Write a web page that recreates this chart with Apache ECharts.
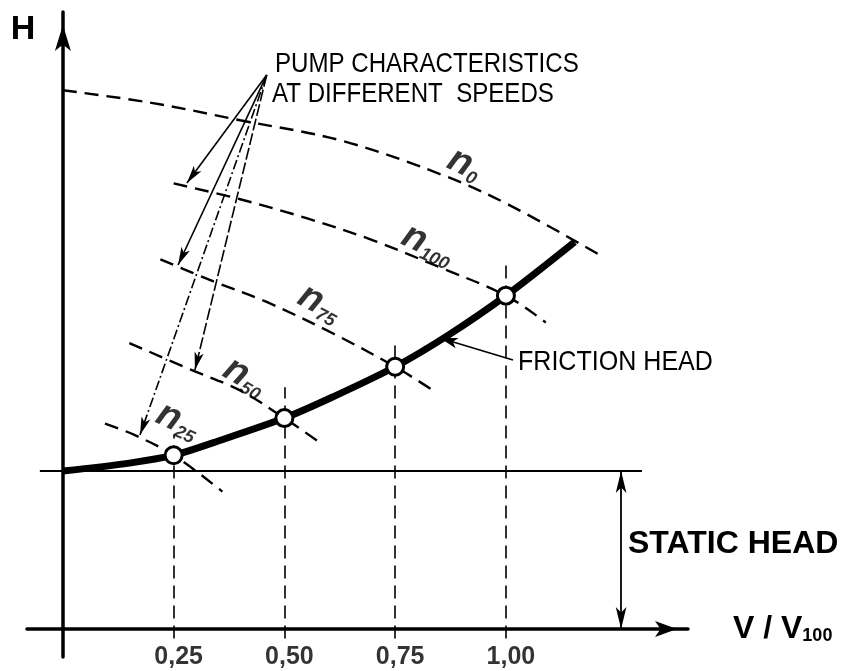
<!DOCTYPE html>
<html>
<head>
<meta charset="utf-8">
<script src="https://cdn.jsdelivr.net/npm/echarts@6/dist/echarts.min.js"></script>
<style>
html, body { margin: 0; padding: 0; background: #fff; }
#chart { width: 842px; height: 671px; }
</style>
</head>
<body>
<div id="chart"></div>
<script>
// operating points (V/V100, H) where the pump curves meet the system curve
var flowRatio = [0.25, 0.5, 0.75, 1.0];
var operatingHead = [1.10, 1.335, 1.66, 2.11];
var guideTop = [1.23, 1.53, 1.83, 2.30];
var staticHead = 1.0;

// system curve = static head + friction head
var frictionV = [0, 0.15, 0.25, 0.34, 0.5, 0.61, 0.75, 0.87, 1.0, 1.155];
var frictionH = [1.0, 1.05, 1.10, 1.18, 1.335, 1.47, 1.66, 1.86, 2.11, 2.45];

// pump characteristics
var n0V = [0, 0.2, 0.4, 0.63, 0.86, 1.01, 1.21];
var n0H = [3.41, 3.33, 3.22, 3.09, 2.87, 2.68, 2.37];
var n100V = [0.25, 0.4, 0.55, 0.7, 0.85, 1.0, 1.09];
var n100H = [2.82, 2.72, 2.6, 2.46, 2.29, 2.11, 1.94];
var n75V = [0.22, 0.34, 0.46, 0.61, 0.75, 0.83];
var n75H = [2.34, 2.2, 2.07, 1.87, 1.66, 1.52];
var n50V = [0.15, 0.29, 0.4, 0.5, 0.58];
var n50H = [1.81, 1.64, 1.51, 1.335, 1.18];
var n25V = [0.095, 0.16, 0.25, 0.36];
var n25H = [1.30, 1.23, 1.10, 0.87];

var speedNames = ['0', '100', '75', '50', '25'];
var speedLabelAt = [[0.907, 2.94], [0.824, 2.43], [0.58, 2.06], [0.411, 1.595], [0.26, 1.316]];
var speedLabelTilt = [-25, -25, -28, -30, -25];

// leader lines for the annotations
var leaderApex = [0.46, 3.506];
var leaderEnds = [[0.28, 2.823], [0.26, 2.304], [0.298, 1.639], [0.174, 1.228]];
var frictionLeader = [[1.016, 1.703], [0.851, 1.842]];
var staticArrowV = 1.26;

function pts(xs, ys) {
  return xs.map(function (x, i) { return [x, ys[i]]; });
}

var chart = echarts.init(document.getElementById('chart'));

var pumpStyle = { color: '#000', width: 2.4, type: [14, 8] };
function pumpSeries(xs, ys) {
  return {
    type: 'line', data: pts(xs, ys), smooth: 0.35, symbol: 'none',
    lineStyle: pumpStyle, z: 2, silent: true
  };
}

var leaderStyles = [
  { color: '#000', width: 1.6, type: 'solid' },
  { color: '#000', width: 1.6, type: 'solid' },
  { color: '#000', width: 1.6, type: [12, 3] },
  { color: '#000', width: 1.6, type: [10, 3, 2, 3] }
];

var marks = [];
flowRatio.forEach(function (v, i) {
  marks.push([
    { coord: [v, -0.06], lineStyle: { color: '#000', width: 1.6, type: [13, 7] } },
    { coord: [v, guideTop[i]] }
  ]);
});
marks.push([
  { coord: [-0.052, staticHead], lineStyle: { color: '#000', width: 1.8, type: 'solid' } },
  { coord: [1.307, staticHead] }
]);
marks.push([
  { coord: [staticArrowV, staticHead], symbol: 'arrow', symbolSize: [8, 22], lineStyle: { color: '#000', width: 1.8, type: 'solid' } },
  { coord: [staticArrowV, 0], symbol: 'arrow', symbolSize: [8, 22] }
]);
leaderEnds.forEach(function (p, i) {
  marks.push([
    { coord: leaderApex, lineStyle: leaderStyles[i] },
    { coord: p, symbol: 'arrow', symbolSize: [7, 18] }
  ]);
});
marks.push([
  { coord: frictionLeader[0], lineStyle: { color: '#000', width: 1.6, type: 'solid' } },
  { coord: frictionLeader[1], symbol: 'arrow', symbolSize: [8, 18] }
]);

var textBase = { fill: '#000', align: 'left', verticalAlign: 'middle', fontFamily: 'Liberation Sans' };
function note(x, y, text, size, sx, weight) {
  return {
    type: 'text', x: x, y: y, scaleX: sx,
    style: Object.assign({ text: text, fontSize: size, fontWeight: weight || 'normal' }, textBase)
  };
}

var option = {
  animation: false,
  backgroundColor: '#fff',
  grid: { left: 27, right: 154, top: 12, bottom: 14, outerBoundsMode: 'none' },
  xAxis: {
    type: 'value', min: -0.081, max: 1.411,
    splitLine: { show: false },
    axisTick: { show: false },
    axisLabel: { show: false },
    axisLine: {
      onZero: true,
      lineStyle: { color: '#000', width: 3.5 },
      symbol: ['none', 'arrow'], symbolSize: [12, 22], symbolOffset: [0, -11]
    },
    name: '{a|V / V}{b|100}',
    nameLocation: 'end',
    nameGap: 45,
    nameTextStyle: {
      rich: {
        a: { fontSize: 32, fontWeight: 'bold', fontFamily: 'Liberation Sans', color: '#000' },
        b: { fontSize: 18, fontWeight: 'bold', fontFamily: 'Liberation Sans', color: '#000', verticalAlign: 'bottom' }
      }
    }
  },
  yAxis: {
    type: 'value', min: -0.177, max: 3.905,
    splitLine: { show: false },
    axisTick: { show: false },
    axisLabel: { show: false },
    axisLine: {
      onZero: true,
      lineStyle: { color: '#000', width: 3.5 },
      symbol: ['none', 'arrow'], symbolSize: [12, 26], symbolOffset: [0, -13]
    }
  },
  graphic: [
    { type: 'text', x: 23, y: 30, style: { text: 'H', fill: '#000', align: 'center', verticalAlign: 'middle', fontSize: 34, fontWeight: 'bold', fontFamily: 'Liberation Sans' } },
    note(275, 64, 'PUMP CHARACTERISTICS', 28, 0.86),
    note(272, 94, 'AT DIFFERENT  SPEEDS', 28, 0.86),
    note(518, 362, 'FRICTION HEAD', 28, 0.895),
    note(628, 544, 'STATIC HEAD', 32, 1, 'bold')
  ],
  series: [
    {
      type: 'line', data: [], z: 1, silent: true,
      markLine: {
        silent: true, animation: false, z: 1,
        symbol: ['none', 'none'],
        label: { show: false },
        emphasis: { disabled: true },
        data: marks
      }
    },
    pumpSeries(n0V, n0H),
    pumpSeries(n100V, n100H),
    pumpSeries(n75V, n75H),
    pumpSeries(n50V, n50H),
    pumpSeries(n25V, n25H),
    {
      type: 'line', data: pts(frictionV, frictionH), smooth: 0.3, symbol: 'none',
      lineStyle: { color: '#000', width: 7 }, z: 3, silent: true
    },
    {
      type: 'scatter', data: pts(flowRatio, operatingHead), symbolSize: 17, z: 6, silent: true,
      itemStyle: { color: '#fff', opacity: 1, borderColor: '#000', borderWidth: 3 }
    },
    {
      // tick labels of the flow axis
      type: 'scatter', symbolSize: 0, z: 5, silent: true,
      data: flowRatio.map(function (v) { return [v, 0]; }),
      label: {
        show: true, position: 'bottom', distance: 16, offset: [5, 0],
        formatter: function (p) { return p.value[0].toFixed(2).replace('.', ','); },
        color: '#000', fontSize: 25, fontWeight: 'bold', fontFamily: 'Liberation Sans'
      }
    },
    {
      type: 'scatter', symbolSize: 0, z: 5, silent: true,
      data: speedNames.map(function (s, i) {
        return { value: speedLabelAt[i], label: { rotate: speedLabelTilt[i], formatter: '{n|n}{s|' + s + '}' } };
      }),
      label: {
        show: true, position: 'inside',
        rich: {
          n: { fontSize: 38, fontStyle: 'italic', fontWeight: 'bold', fontFamily: 'Liberation Sans', color: '#000' },
          s: { fontSize: 18, fontStyle: 'italic', fontWeight: 'bold', fontFamily: 'Liberation Sans', color: '#000', verticalAlign: 'bottom', padding: [14, 0, 0, 0] }
        }
      }
    }
  ]
};
chart.setOption(option);
</script>
</body>
</html>
